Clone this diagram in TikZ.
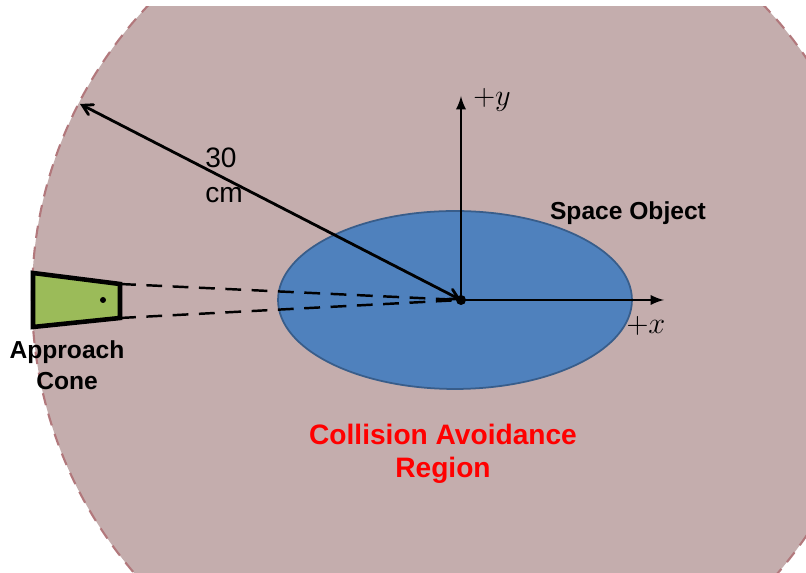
\documentclass[tikz,border=0pt]{standalone}
\usepackage{fontspec}
\setmainfont{Liberation Sans}
\usetikzlibrary{shapes}
\usetikzlibrary{arrows}
\definecolor{regionpink}{RGB}{196,173,173}
\definecolor{regionedge}{RGB}{178,120,124}
\definecolor{objblue}{RGB}{79,129,189}
\definecolor{objedge}{RGB}{56,93,138}
\definecolor{conegreen}{RGB}{155,187,89}
\tikzset{
  region_area/.style = {fill=regionpink, draw=regionedge, line width=1.2pt,
    dash pattern=on 7pt off 5pt},% zone d'evitement
  object_node/.style = {ellipse, inner sep=0pt, fill=objblue, draw=objedge,
    line width=1pt, minimum width=7.08cm, minimum height=3.56cm},% objet
  cone_area/.style = {fill=conegreen, draw=black, line width=2.6pt,
    line join=miter},% cone d'approche
  axis_line/.style = {-latex, line width=1.6pt},% axes
  cone_line/.style = {dashed, line width=1.4pt, dash pattern=on 9pt off 6pt},
  label_text/.style = {align=center, inner sep=0pt,
    font=\fontsize{14}{17.5}\selectfont\bfseries},
  math_text/.style = {inner sep=0pt, font=\fontsize{16}{19}\selectfont}
}
\begin{document}
\begin{tikzpicture}[x=0.02cm, y=-0.02cm]
  \useasboundingbox (0,0) rectangle (806,573);
  \coordinate (C) at (456,297);
  \coordinate (O) at (461,300);
  \begin{scope}
    \clip (0,7) rectangle (806,573);
    \draw [region_area] (C) circle [radius=424];
  \end{scope}
  \node [object_node] (obj) at (455,300) {};
  % cone d'approche
  \coordinate (c1) at (33,273);
  \coordinate (c2) at (120,284);
  \coordinate (c3) at (120,318);
  \coordinate (c4) at (33,327);
  \draw [cone_line] (c2) -- (O);
  \draw [cone_line] (c3) -- (O);
  \draw [cone_area] (c1) -- (c2) -- (c3) -- (c4) -- cycle;
  \fill (103,300) circle [radius=3];
  % axes
  \coordinate (xend) at (664,300);
  \coordinate (yend) at (461,96);
  \coordinate (R) at (80,104);
  \draw [axis_line] (O) -- (xend);
  \draw [axis_line] (O) -- (yend);
  \draw [angle 60-angle 60, line width=1.6pt] (R) -- (O);
  \fill (O) circle [radius=5];
  \node [math_text] (xlab) at (646,326) {$+x$};
  \node [math_text] (ylab) at (492,100) {$+y$};
  % textes
  \node [align=left, inner sep=0pt, anchor=west,
    font=\fontsize{16}{20}\selectfont] (dist) at (205,175) {30\\cm};
  \node [label_text] (objlab) at (628,213) {Space Object};
  \node [label_text] (conelab) at (67,365) {Approach\\Cone};
  \node [label_text, red, font=\fontsize{16}{18.7}\selectfont\bfseries]
    (regionlab) at (443,454) {Collision Avoidance\\Region};
\end{tikzpicture}
\end{document}
